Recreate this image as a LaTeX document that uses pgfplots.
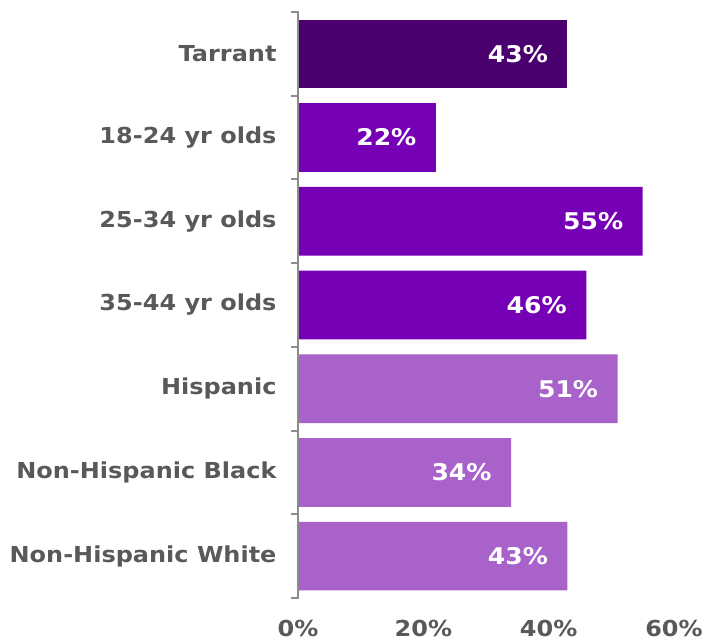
\documentclass[border=0pt]{standalone}
\usepackage{pgfplots}
\pgfplotsset{compat=1.18}
\usepackage{fontspec}
\setmainfont{DejaVu Sans}[FakeStretch=1.09]
\definecolor{cTar}{HTML}{4B0070}
\definecolor{cAge}{HTML}{7500B5}
\definecolor{cRace}{HTML}{A862C9}
\definecolor{lbl}{HTML}{595959}
\definecolor{axc}{HTML}{8C8C8C}
\begin{document}
\begin{tikzpicture}
\useasboundingbox (-298pt,-44pt) rectangle (409pt,598pt);
\begin{axis}[
  at={(0,0)}, anchor=south west,
  scale only axis, width=376pt, height=586pt,
  xbar, bar width=0.82, bar shift=0pt,
  xmin=0, xmax=60,
  ymin=-0.5, ymax=6.5, y dir=reverse,
  axis x line=none,
  axis y line*=left,
  y axis line style={draw=none},
  ytick={0,1,2,3,4,5,6},
  yticklabels={Tarrant,18-24 yr olds,25-34 yr olds,35-44 yr olds,Hispanic,Non-Hispanic Black,Non-Hispanic White},
  major tick length=0pt,
  yticklabel style={font=\fontsize{22}{26}\selectfont\bfseries, text=lbl, xshift=-18pt},
  nodes near coords={\pgfmathprintnumber{\pgfplotspointmeta}\%},
  every node near coord/.append style={anchor=east, xshift=-16pt, text=white, font=\fontsize{23}{26}\selectfont\bfseries},
  /pgf/number format/assume math mode=true,
  clip=false,
]
\addplot[fill=cTar, draw=none] coordinates {(43,0)};
\addplot[fill=cAge, draw=none] coordinates {(22,1) (55,2) (46,3)};
\addplot[fill=cRace, draw=none] coordinates {(51,4) (34,5) (43,6)};
\draw[axc, line width=2pt] (axis cs:0,-0.5) -- (axis cs:0,6.5);
\pgfplotsinvokeforeach{-0.5,0.5,1.5,2.5,3.5,4.5,5.5,6.5}{
  \draw[axc, line width=2pt] ([xshift=1pt]axis cs:0,#1) -- ([xshift=-7pt]axis cs:0,#1);
}
\end{axis}
\foreach \x/\t in {0/0,125.33/20,250.67/40,376/60}{
  \node[font=\fontsize{22}{26}\selectfont\bfseries, text=lbl, anchor=base] at (\x pt,-39pt) {\t\%};
}
\end{tikzpicture}
\end{document}
